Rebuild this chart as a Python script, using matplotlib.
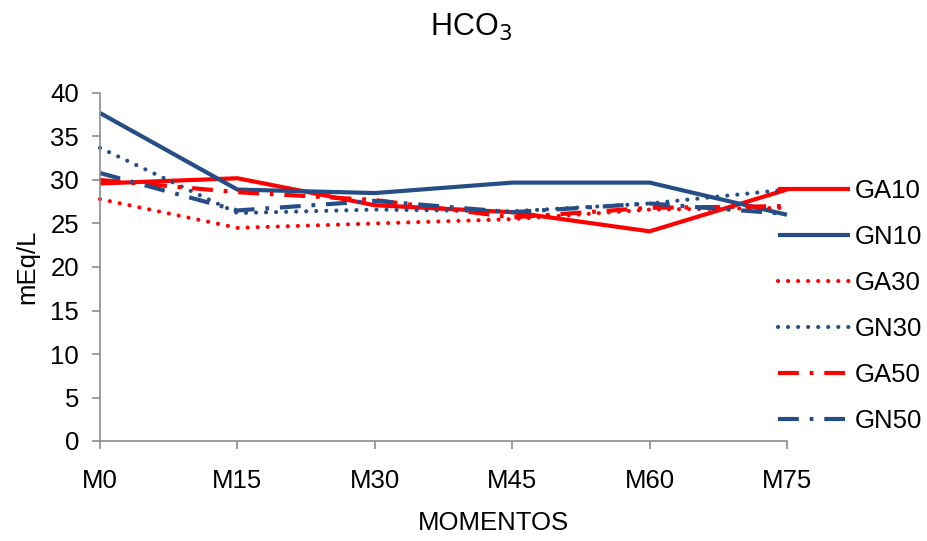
import matplotlib.pyplot as plt

plt.rcParams['font.family'] = ['Liberation Sans', 'DejaVu Sans']

momentos = ['M0', 'M15', 'M30', 'M45', 'M60', 'M75']
ga10 = [29.6, 30.2, 27.1, 26.3, 24.1, 28.9]
gn10 = [37.7, 28.9, 28.5, 29.7, 29.7, 26.0]
ga30 = [27.8, 24.5, 25.0, 25.5, 26.6, 26.8]
gn30 = [33.7, 26.2, 26.6, 26.4, 27.3, 28.9]
ga50 = [30.0, 28.6, 27.7, 25.7, 26.8, 27.0]
gn50 = [30.8, 26.5, 27.6, 26.3, 27.3, 26.1]

red = '#FF0000'
navy = '#254E86'
dotted = (0, (0.01, 2.4))
dashdot = (0, (5.0, 2.6, 0.9, 2.6))

fig = plt.figure(figsize=(9.28, 5.41), dpi=100)
ax = fig.add_axes([100 / 928, 1 - 441 / 541, 687 / 928, 348 / 541])

x = range(len(momentos))
series = [
    ('GA10', ga10, red, '-', 'projecting'),
    ('GN10', gn10, navy, '-', 'projecting'),
    ('GA30', ga30, red, dotted, 'round'),
    ('GN30', gn30, navy, dotted, 'round'),
    ('GA50', ga50, red, dashdot, 'butt'),
    ('GN50', gn50, navy, dashdot, 'butt'),
]
for name, vals, col, ls, cap in series:
    ax.plot(x, vals, color=col, linestyle=ls, linewidth=3.0,
            dash_capstyle=cap, solid_capstyle='butt', label=name, clip_on=False)

ax.set_xlim(0, len(momentos) - 1)
ax.set_ylim(0, 40)
ax.set_yticks(range(0, 41, 5))
ax.set_xticks(list(x))
ax.set_xticklabels(momentos)

for side in ('top', 'right'):
    ax.spines[side].set_visible(False)
for side in ('left', 'bottom'):
    ax.spines[side].set_color('#8C8C8C')
    ax.spines[side].set_linewidth(1.2)
ax.tick_params(axis='both', direction='out', length=6, width=1.2,
               color='#8C8C8C', labelsize=18.5, labelcolor='black')
ax.tick_params(axis='x', pad=14)
ax.tick_params(axis='y', pad=9)

ax.set_xlabel('MOMENTOS', fontsize=18.5)
ax.xaxis.set_label_coords(0.572, -0.2)
ax.set_ylabel('mEq/L', fontsize=18.5, labelpad=8)
fig.text(471 / 928, 1 - 27 / 541, r'HCO$_3$', ha='center', va='center', fontsize=22)

ax.legend(loc='upper left', bbox_to_anchor=(778 / 928, 1 - 179 / 541),
          bbox_transform=fig.transFigure, frameon=False, fontsize=18.5,
          handlelength=2.8, handletextpad=0.2, labelspacing=0.86,
          borderaxespad=0, borderpad=0)

fig.savefig('out.png', dpi=100)
